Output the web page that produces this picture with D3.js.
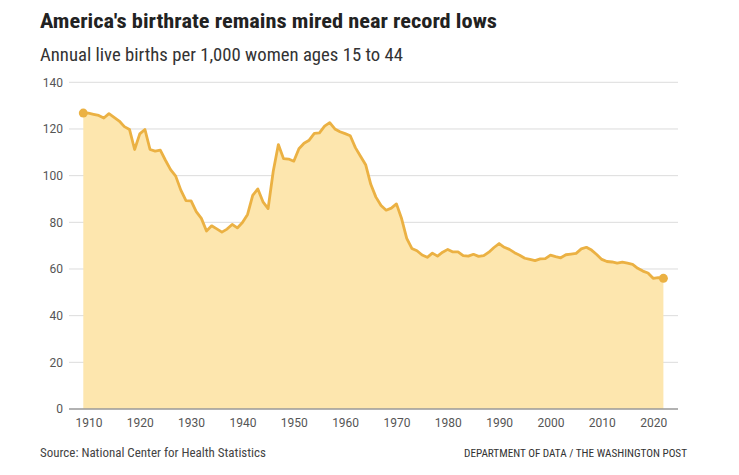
<!DOCTYPE html>
<html>
<head>
<meta charset="utf-8">
<script src="https://cdn.jsdelivr.net/npm/d3@7"></script>
<style>
  html, body { margin: 0; padding: 0; background: #fff; }
  svg { display: block; }
  text { font-family: "Liberation Sans Narrow", "Roboto Condensed", Roboto, sans-serif; }
  .tick-label { font-family: Roboto, "Liberation Sans", sans-serif; }
</style>
</head>
<body>
<svg id="chart" width="739" height="475"></svg>
<script>
const years = d3.range(1909, 2023);
const rates = [
  126.8, 126.8, 126.3, 125.8, 124.7, 126.6, 125.0, 123.4, 121.0, 119.8,
  111.2, 117.9, 119.8, 111.2, 110.5, 110.9, 106.6, 102.6, 99.8, 93.8,
  89.3, 89.2, 84.6, 81.7, 76.3, 78.5, 77.2, 75.8, 77.1, 79.1,
  77.6, 79.9, 83.4, 91.5, 94.3, 88.8, 85.9, 101.9, 113.3, 107.3,
  107.1, 106.2, 111.5, 113.9, 115.2, 118.1, 118.3, 121.2, 122.7, 120.0,
  118.8, 118.0, 117.1, 112.0, 108.3, 104.7, 96.3, 90.8, 87.2, 85.2,
  86.1, 87.9, 81.6, 73.1, 68.8, 67.8, 66.0, 65.0, 66.8, 65.5,
  67.2, 68.4, 67.3, 67.3, 65.7, 65.5, 66.3, 65.4, 65.7, 67.2,
  69.2, 70.9, 69.3, 68.4, 67.0, 65.9, 64.6, 64.1, 63.6, 64.3,
  64.4, 65.9, 65.3, 64.8, 66.1, 66.4, 66.7, 68.6, 69.3, 68.1,
  66.2, 64.1, 63.2, 63.0, 62.5, 62.9, 62.5, 62.0, 60.3, 59.1,
  58.3, 56.0, 56.3, 56.0
];
const yTicks = [0, 20, 40, 60, 80, 100, 120, 140];
const xTicks = [1910, 1920, 1930, 1940, 1950, 1960, 1970, 1980, 1990, 2000, 2010, 2020];

const data = years.map((y, i) => ({ year: y, value: rates[i] }));

const svg = d3.select("#chart");
const gridLeft = 69, gridRight = 678;
const x = d3.scaleLinear().domain([1909, 2022]).range([83.3, 663.4]);
const y = d3.scaleLinear().domain([0, 140]).range([409, 82.3]);

// Title & subtitle
svg.append("text").attr("x", 40).attr("y", 28)
  .attr("font-size", 20).attr("font-weight", "bold").attr("fill", "#222")
  .attr("textLength", 457).attr("lengthAdjust", "spacingAndGlyphs")
  .text("America's birthrate remains mired near record lows");
svg.append("text").attr("x", 40).attr("y", 61)
  .attr("font-size", 17.5).attr("fill", "#333")
  .attr("textLength", 363).attr("lengthAdjust", "spacingAndGlyphs")
  .text("Annual live births per 1,000 women ages 15 to 44");

// Gridlines
svg.append("g").selectAll("line").data(yTicks.filter(d => d > 0)).join("line")
  .attr("x1", gridLeft).attr("x2", gridRight)
  .attr("y1", d => y(d)).attr("y2", d => y(d))
  .attr("stroke", "#dcdcdc").attr("stroke-width", 1);

// Area
const area = d3.area().x(d => x(d.year)).y0(y(0)).y1(d => y(d.value));
svg.append("path").datum(data).attr("d", area).attr("fill", "#fde6ae");

// Line
const line = d3.line().x(d => x(d.year)).y(d => y(d.value));
svg.append("path").datum(data).attr("d", line)
  .attr("fill", "none").attr("stroke", "#ebb143").attr("stroke-width", 2.8)
  .attr("stroke-linejoin", "round").attr("stroke-linecap", "round");

// End dots
svg.append("g").selectAll("circle").data([data[0], data[data.length - 1]]).join("circle")
  .attr("cx", d => x(d.year)).attr("cy", d => y(d.value)).attr("r", 4.5)
  .attr("fill", "#ebb143");

// Y axis labels
svg.append("g").selectAll("text").data(yTicks).join("text")
  .attr("class", "tick-label")
  .attr("x", 63).attr("y", d => y(d)).attr("dy", "0.35em")
  .attr("text-anchor", "end").attr("font-size", 12).attr("fill", "#555")
  .text(d => d);

// X axis baseline
svg.append("line").attr("x1", gridLeft).attr("x2", gridRight)
  .attr("y1", y(0)).attr("y2", y(0)).attr("stroke", "#999").attr("stroke-width", 1.6);

// X axis labels
const xAxis = d3.axisBottom(x).tickValues(xTicks).tickSize(0).tickPadding(9).tickFormat(d3.format("d"));
const gx = svg.append("g").attr("transform", `translate(0,${y(0)})`).call(xAxis);
gx.select(".domain").remove();
gx.selectAll("text").attr("class", "tick-label").attr("font-size", 12).attr("fill", "#555")
  .attr("font-family", null);
gx.attr("font-family", null).attr("font-size", null);

// Footer
svg.append("text").attr("x", 40).attr("y", 457)
  .attr("font-size", 12).attr("fill", "#444")
  .attr("textLength", 226).attr("lengthAdjust", "spacingAndGlyphs")
  .text("Source: National Center for Health Statistics");
svg.append("text").attr("x", 464).attr("y", 457)
  .attr("font-size", 11).attr("fill", "#333")
  .attr("textLength", 223).attr("lengthAdjust", "spacingAndGlyphs")
  .text("DEPARTMENT OF DATA / THE WASHINGTON POST");
</script>
</body>
</html>
